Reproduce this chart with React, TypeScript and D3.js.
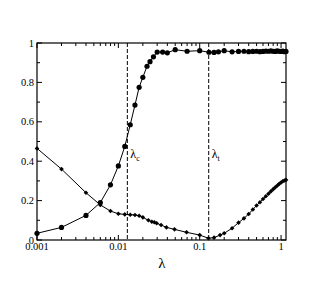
import React from "react";
import * as d3 from "d3";

const xS1 = [0.001, 0.002, 0.004, 0.006, 0.008, 0.01, 0.012, 0.014, 0.016, 0.018, 0.02, 0.0225, 0.0245, 0.027, 0.03, 0.035, 0.04, 0.05, 0.07, 0.1, 0.13, 0.15, 0.17, 0.2, 0.25, 0.3, 0.35, 0.4, 0.45, 0.5, 0.55, 0.6, 0.65, 0.7, 0.75, 0.8, 0.85, 0.9, 0.95, 1.0, 1.05, 1.1, 1.15];
const yS1 = [0.034, 0.064, 0.125, 0.19, 0.28, 0.376, 0.475, 0.585, 0.685, 0.775, 0.826, 0.882, 0.905, 0.93, 0.954, 0.954, 0.95, 0.966, 0.958, 0.961, 0.953, 0.952, 0.955, 0.961, 0.955, 0.957, 0.958, 0.956, 0.957, 0.958, 0.956, 0.957, 0.959, 0.958, 0.96, 0.958, 0.957, 0.96, 0.958, 0.957, 0.959, 0.956, 0.957];

const xS2 = [0.001, 0.002, 0.004, 0.006, 0.008, 0.01, 0.012, 0.014, 0.016, 0.018, 0.02, 0.0234, 0.0258, 0.0277, 0.0296, 0.0335, 0.039, 0.049, 0.069, 0.1, 0.128, 0.15, 0.178, 0.2, 0.25, 0.3, 0.35, 0.4, 0.45, 0.5, 0.55, 0.6, 0.65, 0.7, 0.75, 0.8, 0.85, 0.9, 0.95, 1.0, 1.05, 1.1, 1.15];
const yS2 = [0.465, 0.36, 0.24, 0.178, 0.147, 0.133, 0.13, 0.128, 0.127, 0.123, 0.115, 0.1, 0.093, 0.09, 0.085, 0.076, 0.064, 0.054, 0.039, 0.025, 0.009, 0.012, 0.025, 0.034, 0.06, 0.088, 0.11, 0.132, 0.155, 0.175, 0.192, 0.208, 0.222, 0.235, 0.247, 0.258, 0.268, 0.277, 0.285, 0.292, 0.298, 0.302, 0.305];

const xMajor = [0.001, 0.01, 0.1, 1];
const xMajorLabels = ["0.001", "0.01", "0.1", "1"];
const yMajor = [0, 0.2, 0.4, 0.6, 0.8, 1];
const yMajorLabels = ["0", "0.2", "0.4", "0.6", "0.8", "1"];
const yMinor = [0.1, 0.3, 0.5, 0.7, 0.9];
const criticalX = [0.0129, 0.129];
const criticalLabels = ["c", "t"];

export default function App() {
  const L = 37, R = 286, T = 43, B = 240;
  const x = d3.scaleLog().domain([0.001, 1.15]).range([L, R]);
  const y = d3.scaleLinear().domain([0, 1]).range([B, T]);
  const xMinor: number[] = [];
  for (const d of [0.001, 0.01, 0.1, 1]) {
    for (let k = 2; k <= 9; k++) {
      const v = d * k;
      if (v <= 1.15) xMinor.push(v);
    }
  }
  const line = d3.line<[number, number]>().x(d => x(d[0])).y(d => y(d[1]));
  const s1 = xS1.map((v, i) => [v, yS1[i]] as [number, number]);
  const s2 = xS2.map((v, i) => [v, yS2[i]] as [number, number]);
  const font = "'Liberation Serif', 'DejaVu Serif', serif";
  return (
    <svg width={332} height={291} style={{ position: "absolute", left: 0, top: 0 }} fontFamily={font}>
      <rect width={332} height={291} fill="white" />
      {criticalX.map((c, i) => (
        <g key={i}>
          <line x1={x(c)} x2={x(c)} y1={T} y2={B} stroke="black" strokeWidth={1} strokeDasharray="4,2" />
          <text x={x(c) + 3} y={158} fontSize={12}>λ<tspan fontSize={8} dy={3}>{criticalLabels[i]}</tspan></text>
        </g>
      ))}
      <path d={line(s2) || ""} fill="none" stroke="black" strokeWidth={1} />
      <path d={line(s1) || ""} fill="none" stroke="black" strokeWidth={1} />
      {s2.map((d, i) => (
        <path key={i} d={`M${x(d[0])},${y(d[1]) - 2.3}l2.3,2.3l-2.3,2.3l-2.3,-2.3z`} fill="black" />
      ))}
      {s1.map((d, i) => (
        <circle key={i} cx={x(d[0])} cy={y(d[1])} r={2.6} fill="black" />
      ))}
      <rect x={L} y={T} width={R - L} height={B - T} fill="none" stroke="black" strokeWidth={1.2} />
      {xMajor.map((v, i) => (
        <g key={i}>
          <line x1={x(v)} x2={x(v)} y1={B} y2={B - 5} stroke="black" />
          <line x1={x(v)} x2={x(v)} y1={T} y2={T + 5} stroke="black" />
          <text x={x(v)} y={250} fontSize={10.5} textAnchor="middle">{xMajorLabels[i]}</text>
        </g>
      ))}
      {xMinor.map((v, i) => (
        <g key={i}>
          <line x1={x(v)} x2={x(v)} y1={B} y2={B - 3} stroke="black" />
          <line x1={x(v)} x2={x(v)} y1={T} y2={T + 3} stroke="black" />
        </g>
      ))}
      {yMajor.map((v, i) => (
        <g key={i}>
          <line x1={L} x2={L + 5} y1={y(v)} y2={y(v)} stroke="black" />
          <line x1={R} x2={R - 5} y1={y(v)} y2={y(v)} stroke="black" />
          <text x={34} y={y(v) + 3.5} fontSize={10.5} textAnchor="end">{yMajorLabels[i]}</text>
        </g>
      ))}
      {yMinor.map((v, i) => (
        <g key={i}>
          <line x1={L} x2={L + 3} y1={y(v)} y2={y(v)} stroke="black" />
          <line x1={R} x2={R - 3} y1={y(v)} y2={y(v)} stroke="black" />
        </g>
      ))}
      <text x={162} y={268} fontSize={15} textAnchor="middle">λ</text>
    </svg>
  );
}
